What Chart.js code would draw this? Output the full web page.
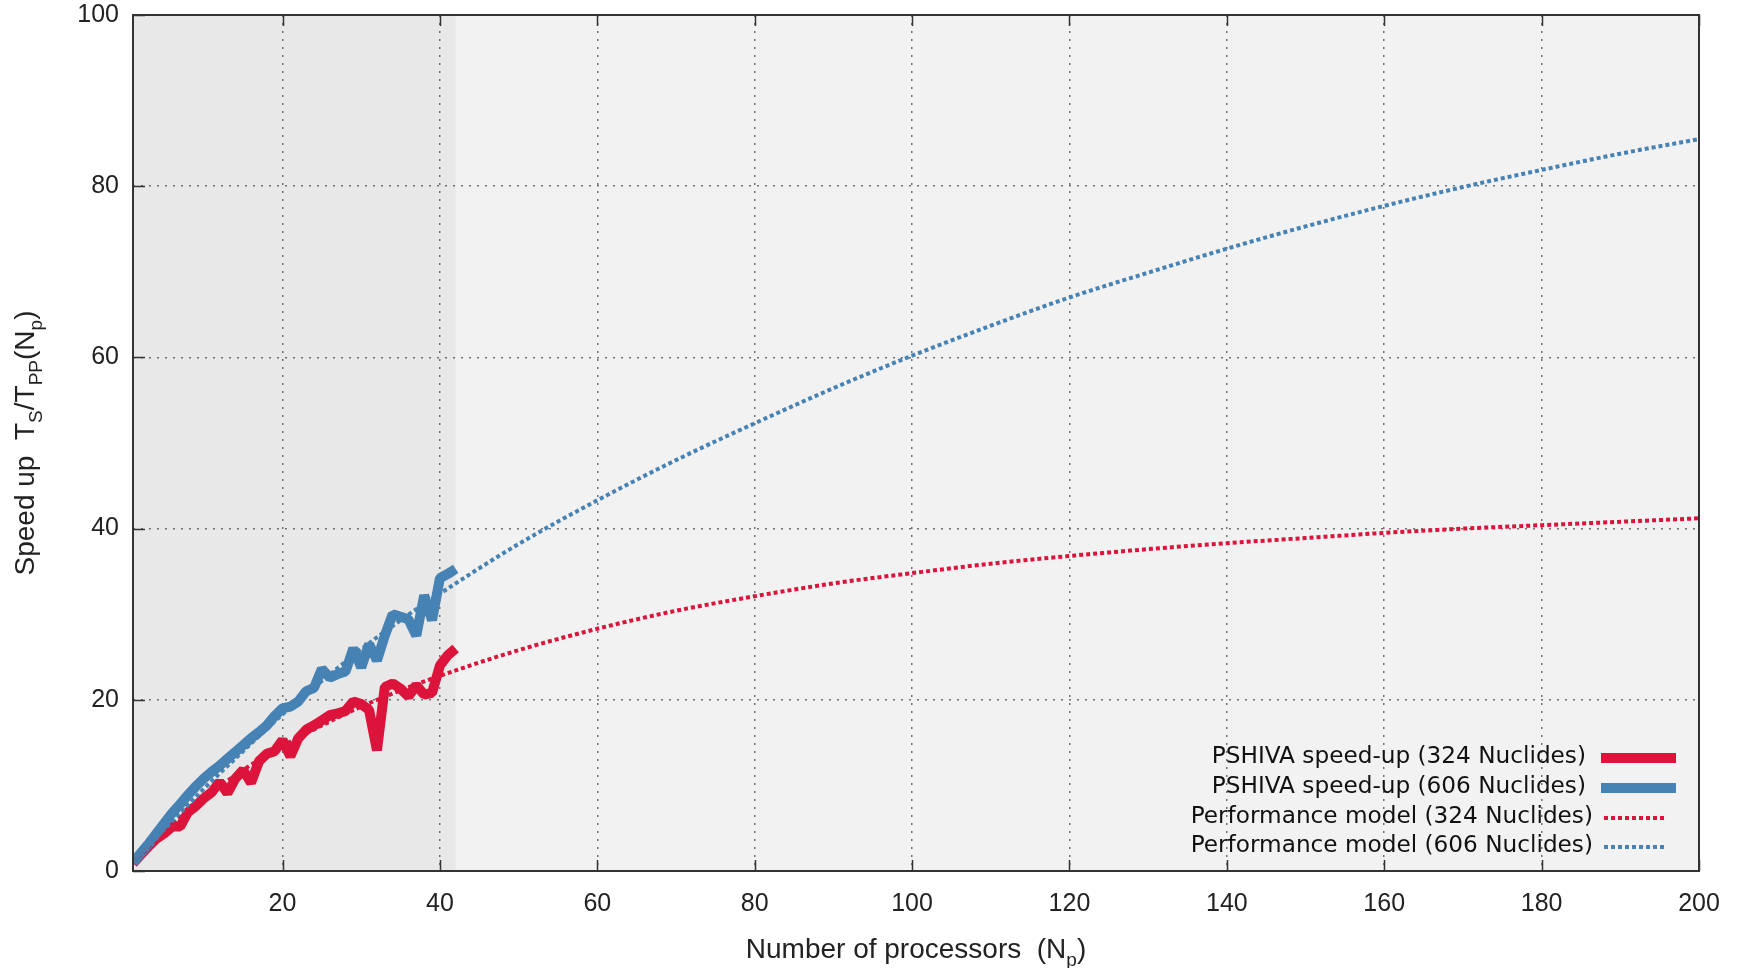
<!DOCTYPE html>
<html>
<head>
<meta charset="utf-8">
<script src="https://cdn.jsdelivr.net/npm/chart.js@4.4.1/dist/chart.umd.min.js"></script>
<style>
    html, body { margin: 0; padding: 0; background: #fff; }
    #speedChart { display: block; }
</style>
</head>
<body>
<canvas id="speedChart" width="1738" height="968"></canvas>
<script>
// measured speed-up, one value per processor count
const procs = [1, 2, 3, 4, 5, 6, 7, 8, 9, 10, 11, 12, 13, 14, 15, 16, 17, 18, 19, 20, 21,
    22, 23, 24, 25, 26, 27, 28, 29, 30, 31, 32, 33, 34, 35, 36, 37, 38, 39, 40, 41, 42];
const speedup324 = [0.9, 1.9, 2.9, 3.8, 4.4, 5.2, 5.2, 6.9, 7.6, 8.5, 9.2, 10.4, 9.1, 10.8,
    11.8, 10.3, 12.8, 13.7, 14.0, 15.3, 13.4, 15.5, 16.5, 17.0, 17.6, 18.2, 18.4, 18.7, 19.8,
    19.5, 18.8, 14.1, 21.5, 21.9, 21.3, 20.4, 21.7, 20.6, 20.8, 24.0, 25.2, 26.0];
const speedup606 = [1.0, 2.1, 3.2, 4.4, 5.6, 6.8, 7.8, 8.9, 9.9, 10.8, 11.6, 12.3, 13.1, 13.9,
    14.7, 15.5, 16.2, 17.0, 18.1, 19.0, 19.2, 19.8, 21.0, 21.4, 23.6, 22.6, 23.0, 23.3, 26.0,
    23.8, 26.5, 24.6, 27.5, 30.0, 29.7, 29.4, 27.5, 32.2, 29.3, 34.2, 34.7, 35.3];

// performance model curves
const modelProcs = [1, 5, 10, 15, 20, 25, 30, 35, 40, 50, 60, 70, 80, 90, 100, 110, 120,
    130, 140, 150, 160, 170, 180, 190, 200];
const model324 = [1.0, 4.6, 8.5, 11.8, 14.6, 17.0, 19.2, 21.1, 22.8, 25.8, 28.3, 30.4, 32.1,
    33.6, 34.8, 35.9, 36.8, 37.6, 38.3, 38.9, 39.5, 40.0, 40.4, 40.8, 41.2];
const model606 = [1.0, 4.9, 9.6, 14.0, 18.3, 22.2, 25.9, 29.3, 32.4, 38.2, 43.3, 48.0, 52.3,
    56.4, 60.2, 63.7, 67.0, 69.9, 72.7, 75.3, 77.7, 79.9, 81.9, 83.8, 85.5];

const xTicks = [20, 40, 60, 80, 100, 120, 140, 160, 180, 200];
const yTicks = [0, 20, 40, 60, 80, 100];
const measuredRange = [1, 42];

const RED = '#dc143c';
const BLUE = '#4682b4';
const AXIS_FONT = '"Liberation Sans", Arial, sans-serif';
const KEY_FONT = '"DejaVu Sans", sans-serif';

function pts(xs, ys) {
    return xs.map((x, i) => ({ x: x, y: ys[i] }));
}

// plot background, with the measured range shaded a bit darker
const plotBackground = {
    id: 'plotBackground',
    beforeDraw(chart) {
        const { ctx, chartArea: a, scales } = chart;
        ctx.save();
        ctx.fillStyle = '#f2f2f2';
        ctx.fillRect(a.left, a.top, a.right - a.left, a.bottom - a.top);
        const x0 = scales.x.getPixelForValue(measuredRange[0]);
        const x1 = scales.x.getPixelForValue(measuredRange[1]);
        ctx.fillStyle = '#e8e8e8';
        ctx.fillRect(x0, a.top, x1 - x0, a.bottom - a.top);
        ctx.restore();
    }
};

// gnuplot style frame with inward ticks
const frame = {
    id: 'frame',
    afterDraw(chart) {
        const { ctx, chartArea: a, scales } = chart;
        ctx.save();
        ctx.strokeStyle = '#333';
        ctx.lineWidth = 2;
        ctx.strokeRect(a.left, a.top, a.right - a.left, a.bottom - a.top);
        ctx.beginPath();
        xTicks.forEach((v) => {
            const px = Math.round(scales.x.getPixelForValue(v)) + 0.5;
            ctx.moveTo(px, a.bottom); ctx.lineTo(px, a.bottom - 11);
            ctx.moveTo(px, a.top); ctx.lineTo(px, a.top + 11);
        });
        yTicks.forEach((v) => {
            const py = Math.round(scales.y.getPixelForValue(v)) + 0.5;
            ctx.moveTo(a.left, py); ctx.lineTo(a.left + 12, py);
        });
        ctx.lineWidth = 1.5;
        ctx.stroke();
        ctx.restore();
    }
};

// text with subscripts, centred on x
function drawRich(ctx, parts, x, y, size) {
    let total = 0;
    parts.forEach((p) => {
        ctx.font = (p.sub ? size * 0.68 : size) + 'px ' + AXIS_FONT;
        total += ctx.measureText(p.t).width;
    });
    let cx = x - total / 2;
    parts.forEach((p) => {
        ctx.font = (p.sub ? size * 0.68 : size) + 'px ' + AXIS_FONT;
        ctx.fillText(p.t, cx, y + (p.sub ? size * 0.28 : 0));
        cx += ctx.measureText(p.t).width;
    });
}

const axisTitles = {
    id: 'axisTitles',
    afterDraw(chart) {
        const { ctx, chartArea: a } = chart;
        ctx.save();
        ctx.fillStyle = '#222';
        ctx.textAlign = 'left';
        ctx.textBaseline = 'alphabetic';
        drawRich(ctx, [
            { t: 'Number of processors  (N' }, { t: 'p', sub: true }, { t: ')' }
        ], (a.left + a.right) / 2, 958, 28);
        ctx.translate(34, (a.top + a.bottom) / 2);
        ctx.rotate(-Math.PI / 2);
        drawRich(ctx, [
            { t: 'Speed up  T' }, { t: 'S', sub: true }, { t: '/T' }, { t: 'PP', sub: true },
            { t: '(N' }, { t: 'p', sub: true }, { t: ')' }
        ], 0, 0, 28);
        ctx.restore();
    }
};

// key: text right-aligned, sample line to its right
const key = {
    id: 'key',
    afterDraw(chart) {
        const { ctx } = chart;
        const rows = [
            { textRight: 1586, x0: 1601, x1: 1676, y: 757 },
            { textRight: 1586, x0: 1601, x1: 1676, y: 787 },
            { textRight: 1593, x0: 1604, x1: 1666, y: 817 },
            { textRight: 1593, x0: 1604, x1: 1666, y: 846 }
        ];
        ctx.save();
        chart.data.datasets.forEach((ds, i) => {
            const r = rows[i];
            ctx.font = '23.2px ' + KEY_FONT;
            ctx.fillStyle = '#111';
            ctx.textAlign = 'right';
            ctx.textBaseline = 'middle';
            ctx.fillText(ds.label, r.textRight, r.y);
            ctx.beginPath();
            ctx.strokeStyle = ds.borderColor;
            ctx.lineWidth = ds.borderWidth;
            ctx.setLineDash(ds.borderDash || []);
            ctx.moveTo(r.x0, r.y + 1);
            ctx.lineTo(r.x1, r.y + 1);
            ctx.stroke();
        });
        ctx.restore();
    }
};

const ctx = document.getElementById('speedChart').getContext('2d');

new Chart(ctx, {
    type: 'line',
    data: {
        datasets: [
            {
                label: 'PSHIVA speed-up (324 Nuclides)',
                data: pts(procs, speedup324),
                borderColor: RED,
                borderWidth: 10,
                borderJoinStyle: 'bevel',
                pointRadius: 0,
                order: 4,
            },
            {
                label: 'PSHIVA speed-up (606 Nuclides)',
                data: pts(procs, speedup606),
                borderColor: BLUE,
                borderWidth: 10,
                borderJoinStyle: 'bevel',
                pointRadius: 0,
                order: 3,
            },
            {
                label: 'Performance model (324 Nuclides)',
                data: pts(modelProcs, model324),
                borderColor: RED,
                borderWidth: 4,
                borderDash: [4, 3],
                cubicInterpolationMode: 'monotone',
                pointRadius: 0,
                order: 2,
            },
            {
                label: 'Performance model (606 Nuclides)',
                data: pts(modelProcs, model606),
                borderColor: BLUE,
                borderWidth: 4,
                borderDash: [4, 3],
                cubicInterpolationMode: 'monotone',
                pointRadius: 0,
                order: 1,
            },
        ],
    },
    options: {
        responsive: false,
        animation: false,
        devicePixelRatio: 1,
        layout: { padding: { top: 15, right: 39, left: 0, bottom: 0 } },
        plugins: {
            legend: { display: false },
            tooltip: { enabled: false },
        },
        scales: {
            x: {
                type: 'linear',
                min: 1,
                max: 200,
                afterBuildTicks: (scale) => { scale.ticks = xTicks.map((v) => ({ value: v })); },
                afterFit: (scale) => {
                    scale.height = 97;
                    scale.paddingLeft = 0;
                    scale.paddingRight = 0;
                },
                ticks: {
                    color: '#222',
                    padding: 18,
                    maxRotation: 0,
                    font: { family: AXIS_FONT, size: 25 },
                },
                grid: { color: 'rgba(80, 80, 80, 0.8)', lineWidth: 1.5, drawTicks: false },
                border: { display: false, dash: [2, 6] },
            },
            y: {
                min: 0,
                max: 100,
                afterBuildTicks: (scale) => { scale.ticks = yTicks.map((v) => ({ value: v })); },
                afterFit: (scale) => {
                    scale.width = 133;
                    scale.paddingTop = 0;
                    scale.paddingBottom = 0;
                },
                ticks: {
                    color: '#222',
                    padding: 14,
                    font: { family: AXIS_FONT, size: 25 },
                },
                grid: { color: 'rgba(80, 80, 80, 0.8)', lineWidth: 1.5, drawTicks: false },
                border: { display: false, dash: [2, 6] },
            },
        },
    },
    plugins: [plotBackground, frame, axisTitles, key],
});
</script>
</body>
</html>
